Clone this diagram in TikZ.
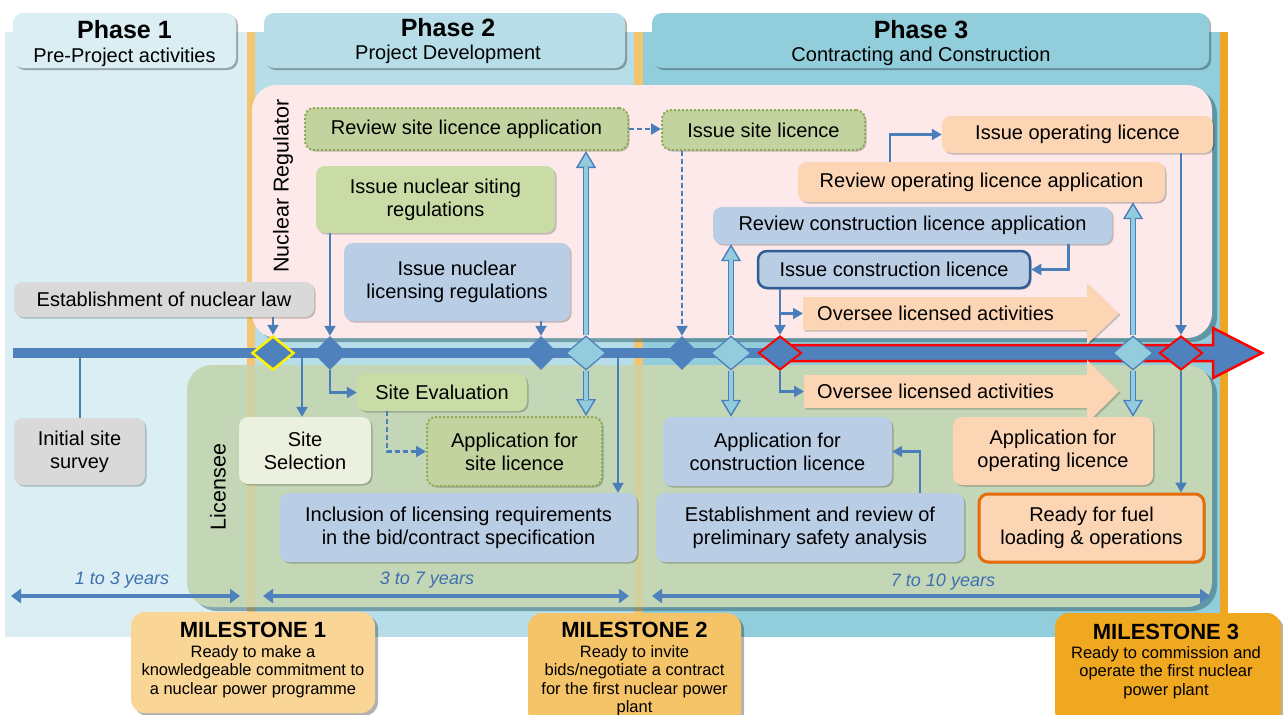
\documentclass[tikz,border=0pt]{standalone}
\usepackage{fontspec}
\setmainfont{Liberation Sans}
\usetikzlibrary{arrows.meta,shapes.geometric,shadows,calc}

\definecolor{barblue}{HTML}{4F81BD}
\definecolor{lineblue}{HTML}{4A7EBB}
\definecolor{lightdia}{HTML}{93CDDD}
\definecolor{phaseA}{HTML}{DAEEF3}
\definecolor{phaseB}{HTML}{B7DEE8}
\definecolor{phaseC}{HTML}{92CDDC}
\definecolor{stripeA}{HTML}{F4C56F}
\definecolor{stripeB}{HTML}{EDA622}
\definecolor{regfill}{HTML}{FDE9EA}
\definecolor{licfill}{HTML}{C3D6B6}
\definecolor{shteal}{HTML}{2F5F6E}
\definecolor{boxgreen}{HTML}{C9DCA5}
\definecolor{dotfill}{HTML}{C2D3A0}
\definecolor{dotline}{HTML}{8DAA54}
\definecolor{selfill}{HTML}{EBF1DE}
\definecolor{boxblue}{HTML}{B9CDE5}
\definecolor{peach}{HTML}{FCD5B5}
\definecolor{greybox}{HTML}{D9D9D9}
\definecolor{iclborder}{HTML}{2F5D96}
\definecolor{readyborder}{HTML}{E46C0A}
\definecolor{msA}{HTML}{F9D596}
\definecolor{msB}{HTML}{F5C469}
\definecolor{msC}{HTML}{EFA820}
\definecolor{durtext}{HTML}{3E6FB0}

\newcommand\mainfs{\fontsize{20}{23}\selectfont}
\newcommand\lanefs{\fontsize{21.5}{24}\selectfont}
\newcommand\phasefs{\fontsize{25}{28}\selectfont\bfseries}
\newcommand\durfs{\fontsize{18}{21}\selectfont\itshape}
\newcommand\mstfs{\fontsize{22}{24}\selectfont\bfseries}
\newcommand\msbfs{\fontsize{16.5}{18.6}\selectfont}

\begin{document}
\begin{tikzpicture}[x=1pt,y=-1pt,
  sh/.style={drop shadow={shadow xshift=1.5pt,shadow yshift=-1.5pt,opacity=0.22,fill=black}},
  box/.style={rounded corners=9pt, align=center, inner sep=0pt, font=\mainfs, sh},
  dotbox/.style={box, fill=dotfill, draw=dotline, line width=2pt, dash pattern=on 2pt off 2pt},
  hdr/.style={rounded corners=10pt, inner sep=0pt, drop shadow={shadow xshift=2pt,shadow yshift=-2pt,opacity=0.3,fill=black}},
  panel/.style={rounded corners=25pt, inner sep=0pt, drop shadow={shadow xshift=5pt,shadow yshift=-4pt,opacity=0.5,fill=shteal}},
  msbox/.style={rounded corners=14pt, inner sep=0pt, drop shadow={shadow xshift=3pt,shadow yshift=-3pt,opacity=0.3,fill=black}},
  darkdia/.style={diamond, inner sep=0pt, minimum width=34pt, minimum height=34pt, fill=barblue},
  yeldia/.style={diamond, inner sep=0pt, minimum width=42pt, minimum height=34pt, fill=barblue, draw=yellow, line width=2.5pt},
  lightd/.style={diamond, inner sep=0pt, minimum width=40pt, minimum height=34pt, fill=lightdia, draw=barblue, line width=1.3pt},
  reddia/.style={diamond, inner sep=0pt, minimum width=43pt, minimum height=34pt, fill=barblue, draw=red, line width=2pt},
  conn/.style={draw=lineblue, line width=2.1pt, -{Triangle[length=10pt,width=11pt]}},
  dconn/.style={conn, dash pattern=on 5pt off 3pt},
  plainc/.style={draw=lineblue, line width=2.1pt},
  hollowtip/.style={draw=lineblue, line width=1.4pt, -{Triangle[length=17pt,width=20pt,fill=lightdia]}},
  hollowshaft/.style={draw=lineblue, line width=1.4pt, double=lightdia, double distance=3.2pt},
  ovs/.style={fill=peach, drop shadow={shadow xshift=1.5pt,shadow yshift=-1.5pt,opacity=0.2,fill=black}},
  dur/.style={draw=barblue, line width=3.2pt, {Triangle[length=10pt,width=14pt]}-{Triangle[length=10pt,width=14pt]}},
  durlabel/.style={font=\durfs, text=durtext, inner sep=0pt},
  lanelabel/.style={rotate=90, font=\lanefs, inner sep=0pt}
]
\useasboundingbox (0,0) rectangle (1283,715);

% phase bands
\fill[phaseA] (5,32) rectangle (247,637);
\fill[phaseB] (255,32) rectangle (634,637);
\fill[phaseC] (643,32) rectangle (1220,637);
\fill[stripeA] (247,32) rectangle (255,637);
\fill[stripeA] (634,32) rectangle (643,637);
\fill[stripeB] (1220,32) rectangle (1228,637);

% phase headers
\node[hdr, fill=phaseA, minimum width=223pt, minimum height=55pt] (ph1) at (124.5,40.5) {};
\node[hdr, fill=phaseB, minimum width=361pt, minimum height=55pt] (ph2) at (444.5,40.5) {};
\node[hdr, fill=phaseC, minimum width=557pt, minimum height=55pt] (ph3) at (930.5,40.5) {};
\node[font=\phasefs, inner sep=0pt] (ph1a) at (124.5,30) {Phase 1};
\node[font=\mainfs, inner sep=0pt] (ph1b) at (124.5,57) {Pre-Project activities};
\node[font=\phasefs, inner sep=0pt] (ph2a) at (448,28) {Phase 2};
\node[font=\mainfs, inner sep=0pt] (ph2b) at (448,54) {Project Development};
\node[font=\phasefs, inner sep=0pt] (ph3a) at (921,30) {Phase 3};
\node[font=\mainfs, inner sep=0pt] (ph3b) at (921,56) {Contracting and Construction};

% swim lanes
\node[panel, fill=regfill, minimum width=960pt, minimum height=253pt] (reg) at (732,211.5) {};
\node[panel, fill=licfill, minimum width=1025pt, minimum height=242pt] (lic) at (699.5,486) {};
\begin{scope}
  \clip[rounded corners=25pt] (187,365) rectangle (1212,607);
  \fill[stripeA, opacity=0.3] (247,365) rectangle (255,607);
  \fill[stripeA, opacity=0.3] (634,365) rectangle (643,607);
\end{scope}
\node[lanelabel] (regl) at (283,186) {Nuclear Regulator};
\node[lanelabel] (licl) at (218,487) {Licensee};

% time line
\coordinate (tl0) at (13,353);
\coordinate (t80) at (80,353);
\coordinate (t302) at (302,353);
\coordinate (t618) at (618,353);
\coordinate (cF) at (780,353);
\draw[barblue, line width=10pt] (tl0) -- (cF);
\draw[draw=red, line width=2.5pt, fill=barblue, line join=miter]
  (780,345) -- (1213,345) -- (1213,328) -- (1262,353) -- (1213,378) -- (1213,361) -- (780,361);

% oversee arrows
\fill[ovs] (803,297) -- (1087,297) -- (1087,283) -- (1119,313.5) -- (1087,344) -- (1087,330) -- (803,330) -- cycle;
\fill[ovs] (804,375) -- (1087,375) -- (1087,360) -- (1119,391.5) -- (1087,423) -- (1087,408) -- (804,408) -- cycle;
\node[font=\mainfs, anchor=west, inner sep=0pt] (ov1) at (817,313.5) {Oversee licensed activities};
\node[font=\mainfs, anchor=west, inner sep=0pt] (ov2) at (817,391.5) {Oversee licensed activities};
\coordinate (ov1in) at (803,313.5);
\coordinate (ov2in) at (804,391.5);

% boxes
\node[box, fill=greybox, minimum width=300pt, minimum height=35pt] (law) at (164,299.5) {Establishment of nuclear law};
\node[box, fill=greybox, minimum width=131pt, minimum height=67pt] (survey) at (79.5,451.5) {Initial site\\survey};
\node[dotbox, minimum width=323pt, minimum height=42pt] (rsla) at (466.5,129) {Review site licence application};
\node[dotbox, minimum width=203pt, minimum height=40pt] (isl) at (763.5,130) {Issue site licence};
\node[box, fill=boxgreen, minimum width=239pt, minimum height=67pt] (siting) at (435.5,199.5) {Issue nuclear siting\\regulations};
\node[box, fill=boxblue, minimum width=226pt, minimum height=78pt] (licreg) at (457,282) {Issue nuclear\\licensing regulations};
\node[box, fill=peach, minimum width=271pt, minimum height=37pt] (iol) at (1077.5,134.5) {Issue operating licence};
\node[box, fill=peach, minimum width=367pt, minimum height=40pt] (rola) at (981.5,182) {Review operating licence application};
\node[box, fill=boxblue, minimum width=399pt, minimum height=37pt] (rcla) at (912.5,225.5) {Review construction licence application};
\node[box, fill=boxblue, draw=iclborder, line width=2.5pt, minimum width=272pt, minimum height=37pt] (icl) at (894,269.5) {Issue construction licence};
\node[box, fill=selfill, minimum width=132pt, minimum height=67pt] (sel) at (305,450.5) {Site\\Selection};
\node[box, fill=boxgreen, minimum width=170pt, minimum height=37pt] (eval) at (442,392.5) {Site Evaluation};
\node[dotbox, minimum width=175pt, minimum height=69pt] (appsite) at (514.5,451.5) {Application for\\site licence};
\node[box, fill=boxblue, minimum width=357pt, minimum height=69pt] (incl) at (458.5,527.5) {Inclusion of licensing requirements\\in the bid/contract specification};
\node[box, fill=boxblue, minimum width=229pt, minimum height=69pt] (appcon) at (777.5,451.5) {Application for\\construction licence};
\node[box, fill=boxblue, minimum width=308pt, minimum height=69pt] (estab) at (810,527.5) {Establishment and review of\\preliminary safety analysis};
\node[box, fill=peach, minimum width=200pt, minimum height=68pt] (appop) at (1053,451) {Application for\\operating licence};
\node[box, fill=peach, draw=readyborder, line width=3pt, minimum width=225pt, minimum height=68pt] (ready) at (1091.5,528) {Ready for fuel\\loading \& operations};

% milestones on the time line
\node[yeldia] (dY) at (273,353) {};
\node[darkdia] (dA) at (330,353) {};
\node[darkdia] (dB) at (541,353) {};
\node[lightd] (dC) at (586,353) {};
\node[darkdia] (dD) at (682,353) {};
\node[lightd] (dE) at (731,353) {};
\node[reddia] (dF) at (cF) {};
\node[lightd] (dG) at (1133,353) {};
\node[reddia] (dH) at (1181,353) {};

% connectors
\draw[conn] (dY |- law.south) -- (dY.north);
\draw[plainc] (t80) -- (t80 |- survey.north);
\draw[conn] (dA |- siting.south) -- (dA.north);
\draw[conn] (dB |- licreg.south) -- (dB.north);
\draw[conn] (t302) -- (t302 |- sel.north);
\draw[conn] (dA.south) |- (eval.west);
\draw[dconn] ([xshift=-55pt]eval.south) |- (appsite.west);
\draw[conn] (t618) -- (t618 |- incl.north);
\draw[dconn] (rsla.east) -- (rsla.east -| isl.west);
\draw[dconn] (dD |- isl.south) -- (dD.north);
\draw[conn] ([xshift=156pt]rcla.south) |- (icl.east);
\draw[conn] (dF |- icl.south) -- (dF.north);
\draw[conn] (dF |- ov1in) -- (ov1in);
\draw[conn] (dF.south) |- (ov2in);
\draw[conn] ([xshift=110pt]estab.north) |- (appcon.east);
\draw[conn] ([xshift=-91.5pt]rola.north) |- (iol.west);
\draw[conn] (dH |- iol.south) -- (dH.north);
\draw[conn] (dH.south) -- (dH |- ready.north);

% hollow arrows between licensee and regulator
\draw[hollowtip] (dC.north) -- (dC |- rsla.south);
\draw[hollowshaft] (dC.north) -- ($(dC |- rsla.south)+(0,16)$);
\draw[hollowtip] (dC.south) -- (dC |- appsite.north);
\draw[hollowshaft] (dC.south) -- ($(dC |- appsite.north)+(0,-16)$);
\draw[hollowtip] (dE.north) -- (dE |- rcla.south);
\draw[hollowshaft] (dE.north) -- ($(dE |- rcla.south)+(0,16)$);
\draw[hollowtip] (dE.south) -- (dE |- appcon.north);
\draw[hollowshaft] (dE.south) -- ($(dE |- appcon.north)+(0,-16)$);
\draw[hollowtip] (dG.north) -- (dG |- rola.south);
\draw[hollowshaft] (dG.north) -- ($(dG |- rola.south)+(0,16)$);
\draw[hollowtip] (dG.south) -- (dG |- appop.north);
\draw[hollowshaft] (dG.south) -- ($(dG |- appop.north)+(0,-16)$);

% durations
\coordinate (d1a) at (11,596);
\coordinate (d1b) at (240,596);
\coordinate (d2a) at (263,596);
\coordinate (d2b) at (629,596);
\coordinate (d3a) at (652,596);
\coordinate (d3b) at (1210,596);
\draw[dur] (d1a) -- (d1b);
\draw[dur] (d2a) -- (d2b);
\draw[dur] (d3a) -- (d3b);
\node[durlabel] (d1t) at (122,580) {1 to 3 years};
\node[durlabel] (d2t) at (427,580) {3 to 7 years};
\node[durlabel] (d3t) at (943,582) {7 to 10 years};

% milestone boxes
\node[msbox, fill=msA, minimum width=244pt, minimum height=101pt] (m1) at (253,662.5) {};
\node[msbox, fill=msB, minimum width=213pt, minimum height=112pt] (m2) at (634.5,669) {};
\node[msbox, fill=msC, minimum width=226pt, minimum height=112pt] (m3) at (1168,669) {};
\node[font=\mstfs, inner sep=0pt] (m1a) at (253,630) {MILESTONE 1};
\node[font=\msbfs, align=center, inner sep=0pt, anchor=north] (m1b) at (253,645) {Ready to make a\\knowledgeable commitment to\\a nuclear power programme};
\node[font=\mstfs, inner sep=0pt] (m2a) at (634.5,630) {MILESTONE 2};
\node[font=\msbfs, align=center, inner sep=0pt, anchor=north] (m2b) at (634.5,645) {Ready to invite\\bids/negotiate a contract\\for the first nuclear power\\plant};
\node[font=\mstfs, inner sep=0pt] (m3a) at (1166,632) {MILESTONE 3};
\node[font=\msbfs, align=center, inner sep=0pt, anchor=north] (m3b) at (1166,646) {Ready to commission and\\operate the first nuclear\\power plant};
\end{tikzpicture}
\end{document}
